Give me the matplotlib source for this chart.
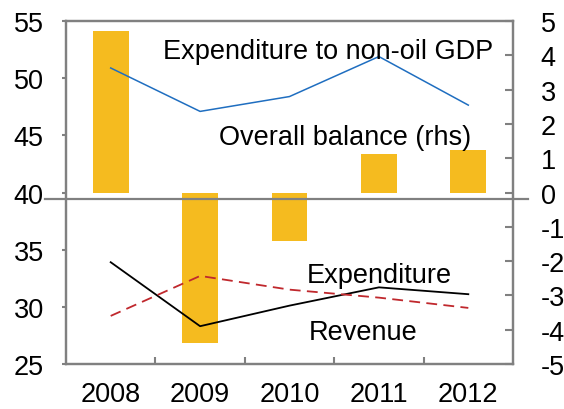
import matplotlib
matplotlib.use("Agg")
import matplotlib.pyplot as plt
import numpy as np

plt.rcParams["font.family"] = ["Liberation Sans", "DejaVu Sans"]
plt.rcParams["axes.unicode_minus"] = False

# Data
years = ["2008", "2009", "2010", "2011", "2012"]
overall_balance = [4.72, -4.39, -1.42, 1.12, 1.25]      # rhs, bars
exp_non_oil_gdp = [50.9, 47.1, 48.4, 51.9, 47.65]       # lhs
expenditure = [33.9, 28.3, 30.1, 31.7, 31.1]            # lhs
revenue = [29.2, 32.7, 31.5, 30.8, 29.9]                # lhs

gray = "#808080"
fs = 19.5
x = np.arange(len(years))

fig = plt.figure(figsize=(5.64, 4.10), dpi=100)
ax = fig.add_axes([0.117, 0.110, 0.7926, 0.836])
ax2 = ax.twinx()

# bars on the right axis, behind the lines
ax2.bar(x, overall_balance, width=0.4, color="#F5BB1F", zorder=1)
ax2.set_ylim(-5, 5)
ax2.set_yticks(range(-5, 6))
ax.set_zorder(ax2.get_zorder() + 1)
ax.patch.set_visible(False)

ax.plot(x, exp_non_oil_gdp, color="#1F6EC0", lw=1.1)
ax.plot(x, expenditure, color="black", lw=1.3)
ax.plot(x, revenue, color="#C0282D", lw=1.3, dashes=(6, 3.5))

ax.set_xlim(-0.5, 4.5)
ax.set_ylim(25, 55)
ax.set_yticks(range(25, 56, 5))

# category ticks sit between the years
ax.set_xticks(x)
ax.set_xticklabels(years)
ax.set_xticks(np.arange(0.5, 4.5, 1), minor=True)
ax.tick_params(axis="x", which="major", length=0, pad=12, labelsize=fs)
ax.tick_params(axis="x", which="minor", direction="in", length=5, width=1.5, color=gray)
ax.tick_params(axis="y", direction="out", length=3, width=1.5, color=gray, pad=13, labelsize=fs)
ax2.tick_params(axis="y", direction="in", length=6, width=1.5, color=gray, pad=20, labelsize=fs)

for a in (ax, ax2):
    for s in a.spines.values():
        s.set_color(gray)
        s.set_linewidth(1.6)

# horizontal rule near zero, running past the plot edges
ax.axhline(39.43, xmin=-0.047, xmax=1.034, color=gray, lw=1.6, clip_on=False, zorder=3)

ax.text(0.585, 52.4, "Expenditure to non-oil GDP", fontsize=fs, va="center")
ax.text(1.21, 44.85, "Overall balance (rhs)", fontsize=fs, va="center")
ax.text(2.19, 32.8, "Expenditure", fontsize=fs, va="center")
ax.text(2.21, 27.8, "Revenue", fontsize=fs, va="center")

fig.savefig("out.png", dpi=100)
